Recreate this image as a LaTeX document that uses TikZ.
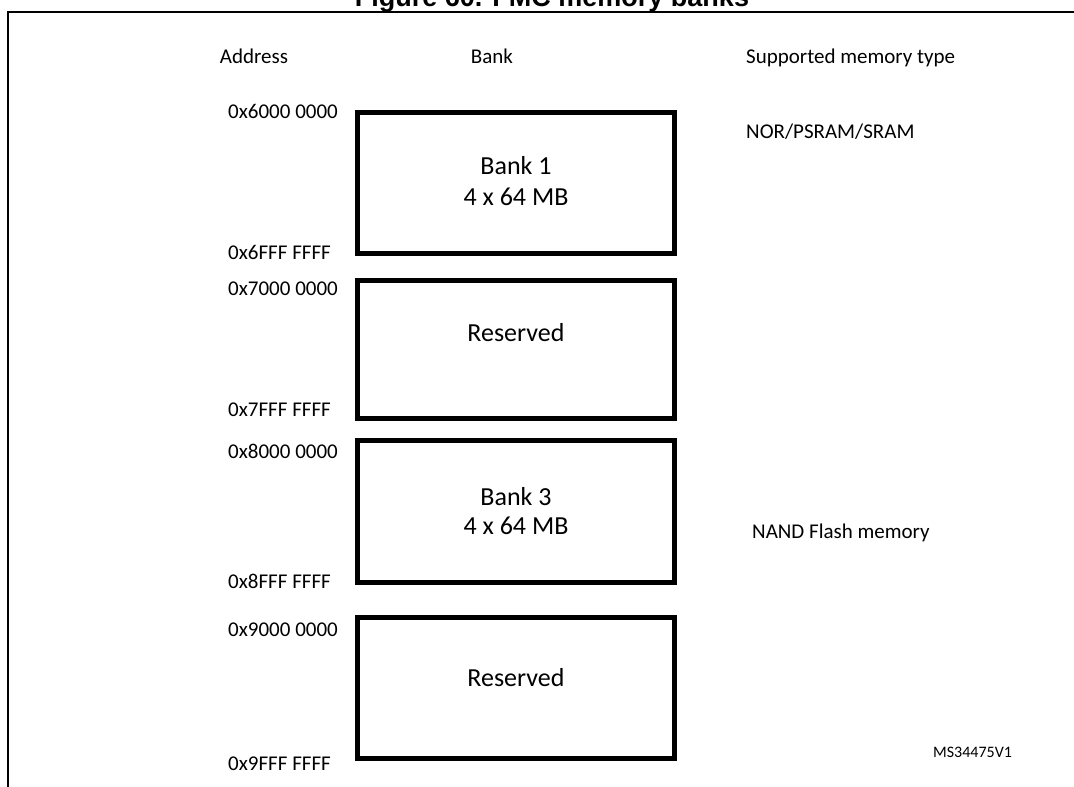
\documentclass[tikz,border=0pt]{standalone}
\usepackage{fontspec}
\setmainfont{Carlito}
\newfontfamily\titlefam{Liberation Sans}
\begin{document}
\begin{tikzpicture}[x=1pt,y=-1pt,
  lbl/.style={font=\fontsize{21}{25}\selectfont, inner sep=0pt, text height=13.5pt, text depth=0pt},
  addr/.style={lbl, anchor=west},
  banktxt/.style={font=\fontsize{26}{31}\selectfont, inner sep=0pt, text height=16.7pt, text depth=0pt},
  bankbox/.style={draw, line width=5pt, minimum width=317pt, inner sep=0pt},
  idtxt/.style={font=\fontsize{16}{19}\selectfont, inner sep=0pt, text height=10.3pt, text depth=0pt, anchor=west}
]
\useasboundingbox (0,0) rectangle (1074,787);
% title (cut by the page edge)
\node[anchor=base, inner sep=0pt, font=\titlefam\bfseries\fontsize{27}{32}\selectfont] (title) at (552,6) {Figure 60. FMC memory banks};
% frame
\draw[line width=2pt] (8,787) -- (8,12) -- (1074,12);
% headers
\node[lbl] (hAddr) at (254,57) {Address};
\node[lbl] (hBank) at (492,57) {Bank};
\node[lbl, anchor=west] (hType) at (746,57) {Supported memory type};
% boxes
\node[bankbox, minimum height=140.5pt] (b1) at (516,182.75) {};
\node[bankbox, minimum height=137.5pt] (b2) at (516,349.25) {};
\node[bankbox, minimum height=141.5pt] (b3) at (516,511.25) {};
\node[bankbox, minimum height=140.5pt] (b4) at (516,687.75) {};
% box texts
\node[banktxt] (b1a) at (516,166) {Bank 1};
\node[banktxt] (b1b) at (516,197.5) {4 x 64 MB};
\node[banktxt] (b2a) at (516,333) {Reserved};
\node[banktxt] (b3a) at (516,497) {Bank 3};
\node[banktxt] (b3b) at (516,526) {4 x 64 MB};
\node[banktxt] (b4a) at (516,678) {Reserved};
% addresses
\node[addr] (a1) at (228,111.7) {0x6000 0000};
\node[addr] (a2) at (228,253) {0x6FFF FFFF};
\node[addr] (a3) at (228,289) {0x7000 0000};
\node[addr] (a4) at (228,410) {0x7FFF FFFF};
\node[addr] (a5) at (228,452) {0x8000 0000};
\node[addr] (a6) at (228,582) {0x8FFF FFFF};
\node[addr] (a7) at (228,630) {0x9000 0000};
\node[addr] (a8) at (228,764) {0x9FFF FFFF};
% memory types
\node[addr] (t1) at (746,132) {NOR/PSRAM/SRAM};
\node[addr] (t2) at (752,532) {NAND Flash memory};
% id
\node[idtxt] (id) at (933,752) {MS34475V1};
\end{tikzpicture}
\end{document}
